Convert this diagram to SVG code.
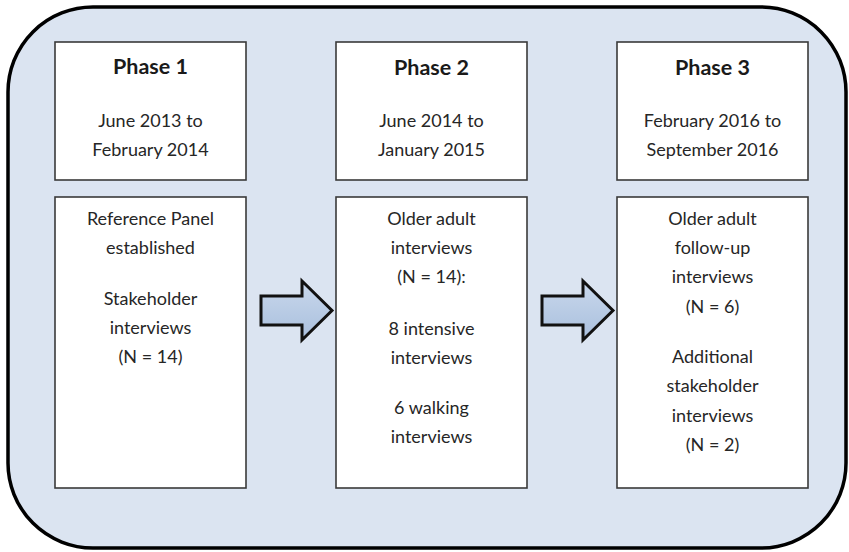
<svg xmlns="http://www.w3.org/2000/svg" width="849" height="552" viewBox="0 0 849 552">
<style>
.box{fill:#ffffff;stroke:#3a3a3a;stroke-width:1.6}
.t{font-family:Lato,"Liberation Sans",Arial,sans-serif;font-size:18px;fill:#262626;text-anchor:middle}
.h{font-family:Lato,"Liberation Sans",Arial,sans-serif;font-size:21.5px;font-weight:bold;fill:#1a1a1a;text-anchor:middle}
.arrow{stroke:#111111;stroke-width:3;stroke-linejoin:miter}
</style>
<defs>
<linearGradient id="ag" x1="0" y1="0" x2="0" y2="1">
<stop offset="0" stop-color="#c9d8ec"/>
<stop offset="1" stop-color="#a9bfdd"/>
</linearGradient>
</defs>
<rect x="0" y="0" width="849" height="552" fill="#ffffff"/>
<g id="frame">
<rect x="8" y="7" width="838" height="541" rx="85" ry="85" fill="#dbe4f1" stroke="#000000" stroke-width="3.5"/>
</g>
<g id="phase1">
<rect class="box" x="55" y="42" width="191" height="138"/>
<text class="h" x="150.5" y="74">Phase 1</text>
<text class="t" x="150.5" y="127">June 2013 to</text>
<text class="t" x="150.5" y="156">February 2014</text>
</g>
<g id="phase1-detail">
<rect class="box" x="55" y="197" width="191" height="291"/>
<text class="t" x="150.5" y="225">Reference Panel</text>
<text class="t" x="150.5" y="254">established</text>
<text class="t" x="150.5" y="305">Stakeholder</text>
<text class="t" x="150.5" y="334">interviews</text>
<text class="t" x="150.5" y="363">(N = 14)</text>
</g>
<g id="phase2">
<rect class="box" x="336" y="42" width="191" height="138"/>
<text class="h" x="431.5" y="75">Phase 2</text>
<text class="t" x="431.5" y="127">June 2014 to</text>
<text class="t" x="431.5" y="156">January 2015</text>
</g>
<g id="phase2-detail">
<rect class="box" x="336" y="197" width="191" height="291"/>
<text class="t" x="431.5" y="225">Older adult</text>
<text class="t" x="431.5" y="254">interviews</text>
<text class="t" x="431.5" y="283">(N = 14):</text>
<text class="t" x="431.5" y="335">8 intensive</text>
<text class="t" x="431.5" y="364">interviews</text>
<text class="t" x="431.5" y="414">6 walking</text>
<text class="t" x="431.5" y="443">interviews</text>
</g>
<g id="phase3">
<rect class="box" x="617" y="42" width="191" height="138"/>
<text class="h" x="712.5" y="75">Phase 3</text>
<text class="t" x="712.5" y="127">February 2016 to</text>
<text class="t" x="712.5" y="156">September 2016</text>
</g>
<g id="phase3-detail">
<rect class="box" x="617" y="197" width="191" height="291"/>
<text class="t" x="712.5" y="225">Older adult</text>
<text class="t" x="712.5" y="254">follow-up</text>
<text class="t" x="712.5" y="283">interviews</text>
<text class="t" x="712.5" y="313">(N = 6)</text>
<text class="t" x="712.5" y="363">Additional</text>
<text class="t" x="712.5" y="392">stakeholder</text>
<text class="t" x="712.5" y="422">interviews</text>
<text class="t" x="712.5" y="451">(N = 2)</text>
</g>
<g id="connectors">
<polygon class="arrow" style="fill:url(#ag)" points="261,296 302,296 302,281 332,310.5 302,340 302,325 261,325"/>
<polygon class="arrow" style="fill:url(#ag)" points="542,296 583,296 583,281 613,310.5 583,340 583,325 542,325"/>
</g>
</svg>
